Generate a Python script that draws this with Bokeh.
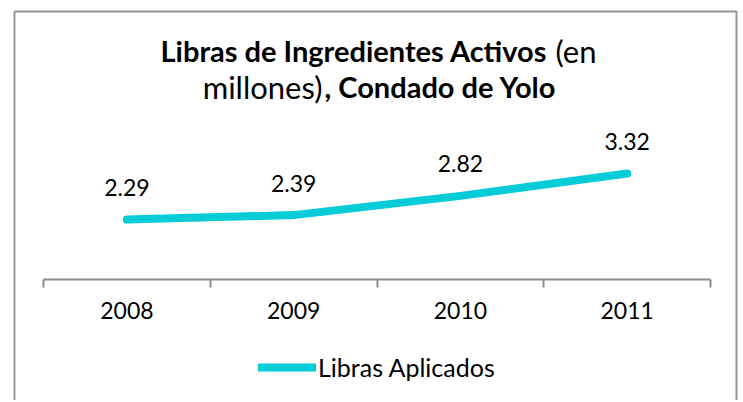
from bokeh.plotting import figure
from bokeh.models import (Range1d, FixedTicker, Legend, LegendItem, Label,
                          ColumnDataSource)
from bokeh.core.properties import value
from bokeh.embed import file_html
from bokeh.resources import INLINE

# ---- data ----
years = ["2008", "2009", "2010", "2011"]
libras = [2.29, 2.39, 2.82, 3.32]
value_labels = ["2.29", "2.39", "2.82", "3.32"]
series_name = "Libras Aplicados"
title_bold_1 = "Libras de Ingredientes Activos"
title_norm_1 = "(en"
title_norm_2 = "millones)"
title_bold_2 = ", Condado de Yolo"

FONT = "Lato"
CYAN = "#06CCD7"
GREY = "#969696"

pos = [i + 1 for i in range(len(years))]

# ---- geometry (page pixels) ----
W, H = 740, 400
PAGE_X0, PAGE_Y0 = 0, 0
CAT_PX = 166.75            # pixels per category
FIRST_CAT_PX = 126.4       # page x of first category centre
AXIS_PX = 279              # page y of axis line
PX_PER_UNIT = 44.66        # vertical pixels per value unit
Y_AT_AXIS = 0.948

def dx(px):  # page x -> data x
    return pos[0] + (px - FIRST_CAT_PX) / CAT_PX

def dy(py):  # page y -> data y
    return Y_AT_AXIS + (AXIS_PX - py) / PX_PER_UNIT

p = figure(width=W, height=H, output_backend="svg", toolbar_location=None,
           x_range=Range1d(dx(PAGE_X0), dx(PAGE_X0 + W)),
           y_range=Range1d(dy(PAGE_Y0 + H), dy(PAGE_Y0)),
           min_border=0, min_border_left=0, min_border_right=0,
           min_border_top=0, min_border_bottom=0)
p.outline_line_color = None
p.xgrid.visible = False
p.ygrid.visible = False
p.yaxis.visible = False
p.background_fill_color = "white"
p.border_fill_color = "white"

# chart border (open at the bottom, as in the reference)
p.line([dx(14), dx(14), dx(736), dx(736)],
       [dy(PAGE_Y0 + H + 5), dy(11), dy(11), dy(PAGE_Y0 + H + 5)],
       line_color=GREY, line_width=2)

ax = p.xaxis[0]
ax.fixed_location = Y_AT_AXIS
ax.bounds = (pos[0] - 0.5, pos[-1] + 0.5)
ax.ticker = FixedTicker(ticks=pos,
                        minor_ticks=[x - 0.5 for x in pos] + [pos[-1] + 0.5])
ax.major_label_overrides = {pv: y for pv, y in zip(pos, years)}
ax.major_tick_line_color = None
ax.minor_tick_in = 0
ax.minor_tick_out = 8
ax.minor_tick_line_color = "#8c8c8c"
ax.minor_tick_line_width = 2
ax.axis_line_color = "#8c8c8c"
ax.axis_line_width = 2
ax.major_label_text_font = FONT
ax.major_label_text_font_size = "23px"
ax.major_label_text_color = "#000000"
ax.major_label_standoff = 14

src = ColumnDataSource(dict(x=pos, y=libras, lab=value_labels))
r = p.line("x", "y", source=src, line_color=CYAN, line_width=8,
           line_cap="round", line_join="round")
p.text("x", "y", text="lab", source=src, text_font=value(FONT),
       text_font_size="23px", text_align="center", text_baseline="alphabetic",
       y_offset=-32, text_color="#000000")

legend = Legend(items=[LegendItem(label=series_name, renderers=[r])],
                location=(258, 18), orientation="horizontal",
                border_line_color=None, background_fill_alpha=0,
                glyph_width=58, glyph_height=20, label_standoff=2,
                label_text_font=FONT, label_text_font_size="25px",
                label_text_color="#000000", padding=4, margin=0)
p.add_layout(legend, "center")

# title pieces (mixed bold / normal)
def title_piece(text, bold, align, px, py):
    p.add_layout(Label(x=dx(px), y=dy(py), text=text,
                       text_font=FONT,
                       text_font_size="29px" if bold else "31px",
                       text_font_style="bold" if bold else "normal",
                       text_align=align, text_baseline="middle",
                       text_color="#000000"))

title_piece(title_bold_1, True, "right", 547, 50)
title_piece(title_norm_1, False, "left", 555, 50)
title_piece(title_norm_2, False, "right", 322, 86)
title_piece(title_bold_2, True, "left", 324, 86)

open("out.html", "w").write(file_html(p, INLINE))
